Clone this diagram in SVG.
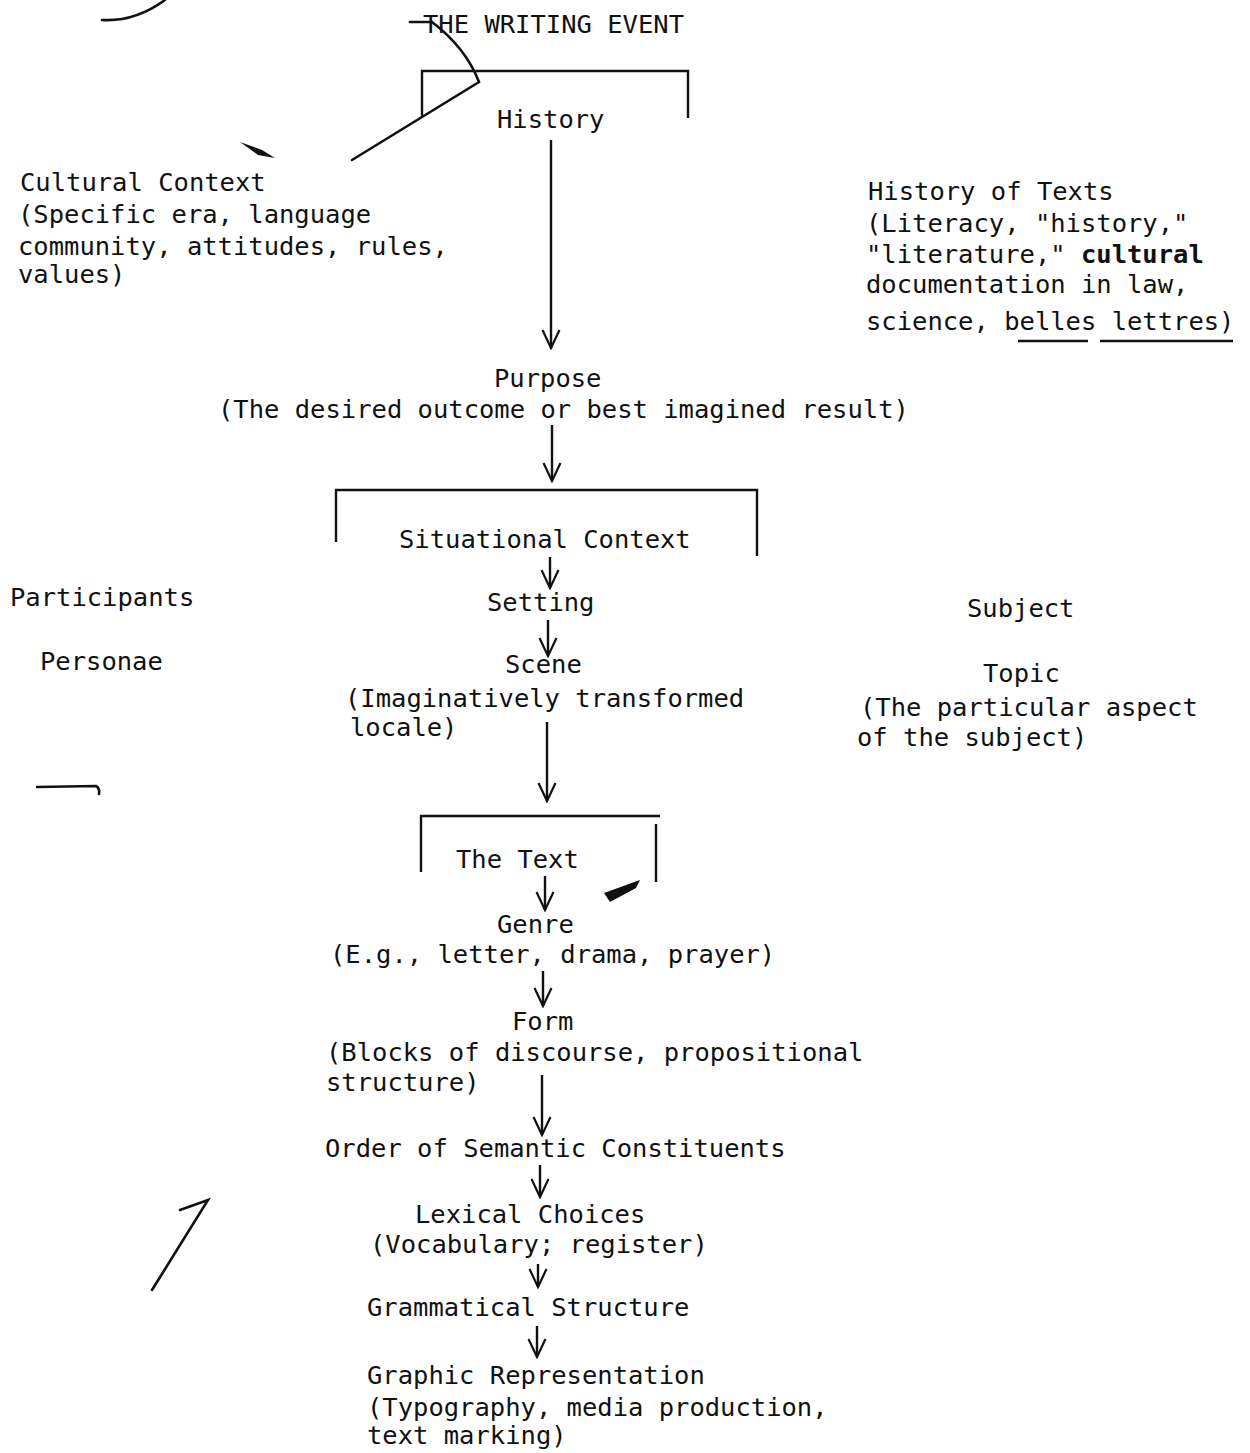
<svg xmlns="http://www.w3.org/2000/svg" width="1250" height="1453" viewBox="0 0 1250 1453">
<style>
text{font-family:"DejaVu Sans Mono","Liberation Mono",monospace;font-size:25.5px;fill:#111}
.b{font-weight:bold}
.ln{stroke:#111;stroke-width:2.4;fill:none}
.mk{stroke:#111;stroke-width:2.6;fill:none;stroke-linecap:round}
</style>
<defs>
<marker id="ah" viewBox="-20 -11 22 22" markerWidth="22" markerHeight="22" refX="0" refY="0" orient="auto" markerUnits="userSpaceOnUse">
<path d="M-18,-8.5 L0,0 L-18,8.5" fill="none" stroke="#111" stroke-width="2.2"/>
</marker>
</defs>
<rect width="1250" height="1453" fill="#fff"/>

<g id="title"><text x="423" y="33">THE WRITING EVENT</text></g>

<g id="history">
<path class="ln" d="M422,117 V71 H688 V118"/>
<text x="497" y="128">History</text>
</g>

<g id="cultural-context">
<text x="20" y="191">Cultural Context</text>
<text x="18" y="223">(Specific era, language</text>
<text x="18" y="255">community, attitudes, rules,</text>
<text x="18" y="283">values)</text>
</g>

<g id="history-of-texts">
<text x="868" y="200">History of Texts</text>
<text x="866" y="232">(Literacy, "history,"</text>
<text x="866" y="263">"literature," <tspan class="b">cultural</tspan></text>
<text x="866" y="293">documentation in law,</text>
<text x="866" y="330">science, belles lettres)</text>
<path class="ln" d="M1018,341 H1088 M1100,341 H1233"/>
</g>

<g id="purpose">
<text x="494" y="387">Purpose</text>
<text x="218" y="418">(The desired outcome or best imagined result)</text>
</g>

<g id="situational-context">
<path class="ln" d="M336,542 V490 H757 V556"/>
<text x="399" y="548">Situational Context</text>
</g>

<g id="setting"><text x="487" y="611">Setting</text></g>
<g id="participants"><text x="10" y="606">Participants</text></g>
<g id="personae"><text x="40" y="670">Personae</text></g>
<g id="subject"><text x="967" y="617">Subject</text></g>

<g id="scene">
<text x="505" y="673">Scene</text>
<text x="345" y="707">(Imaginatively transformed</text>
<text x="350" y="736">locale)</text>
</g>

<g id="topic">
<text x="983" y="682">Topic</text>
<text x="860" y="716">(The particular aspect</text>
<text x="857" y="746">of the subject)</text>
</g>

<g id="the-text">
<path class="ln" d="M421,872 V816 H660 M656,824 V882"/>
<text x="456" y="868">The Text</text>
</g>

<g id="genre">
<text x="497" y="933">Genre</text>
<text x="330" y="963">(E.g., letter, drama, prayer)</text>
</g>

<g id="form">
<text x="512" y="1030">Form</text>
<text x="326" y="1061">(Blocks of discourse, propositional</text>
<text x="326" y="1091">structure)</text>
</g>

<g id="order"><text x="325" y="1157">Order of Semantic Constituents</text></g>

<g id="lexical">
<text x="415" y="1223">Lexical Choices</text>
<text x="370" y="1253">(Vocabulary; register)</text>
</g>

<g id="grammatical"><text x="367" y="1316">Grammatical Structure</text></g>

<g id="graphic">
<text x="367" y="1384">Graphic Representation</text>
<text x="367" y="1416">(Typography, media production,</text>
<text x="367" y="1444">text marking)</text>
</g>

<g id="connectors">
<line class="ln" x1="551" y1="140" x2="551" y2="348" marker-end="url(#ah)"/>
<line class="ln" x1="552" y1="425" x2="552" y2="481" marker-end="url(#ah)"/>
<line class="ln" x1="550" y1="557" x2="550" y2="588" marker-end="url(#ah)"/>
<line class="ln" x1="548" y1="620" x2="548" y2="656" marker-end="url(#ah)"/>
<line class="ln" x1="547" y1="722" x2="547" y2="801" marker-end="url(#ah)"/>
<line class="ln" x1="545" y1="876" x2="545" y2="910" marker-end="url(#ah)"/>
<line class="ln" x1="543" y1="971" x2="543" y2="1006" marker-end="url(#ah)"/>
<line class="ln" x1="542" y1="1075" x2="542" y2="1135" marker-end="url(#ah)"/>
<line class="ln" x1="540" y1="1165" x2="540" y2="1197" marker-end="url(#ah)"/>
<line class="ln" x1="538" y1="1264" x2="538" y2="1287" marker-end="url(#ah)"/>
<line class="ln" x1="537" y1="1326" x2="537" y2="1357" marker-end="url(#ah)"/>
</g>

<g id="scan-marks">
<path class="mk" d="M102,20 Q135,22 165,0"/>
<path class="mk" d="M410,22 L432,22 Q466,48 479,82 L352,160"/>
<path class="mk" d="M37,787 L96,786 Q100,788 99,794"/>
<path class="mk" d="M180,1210 L208,1200 L152,1290"/>
<path d="M240,142 L262,150 L275,158 L258,155 Z" fill="#111"/>
<path d="M604,893 L640,880 L636,888 L610,902 Z" fill="#111"/>
</g>
</svg>
